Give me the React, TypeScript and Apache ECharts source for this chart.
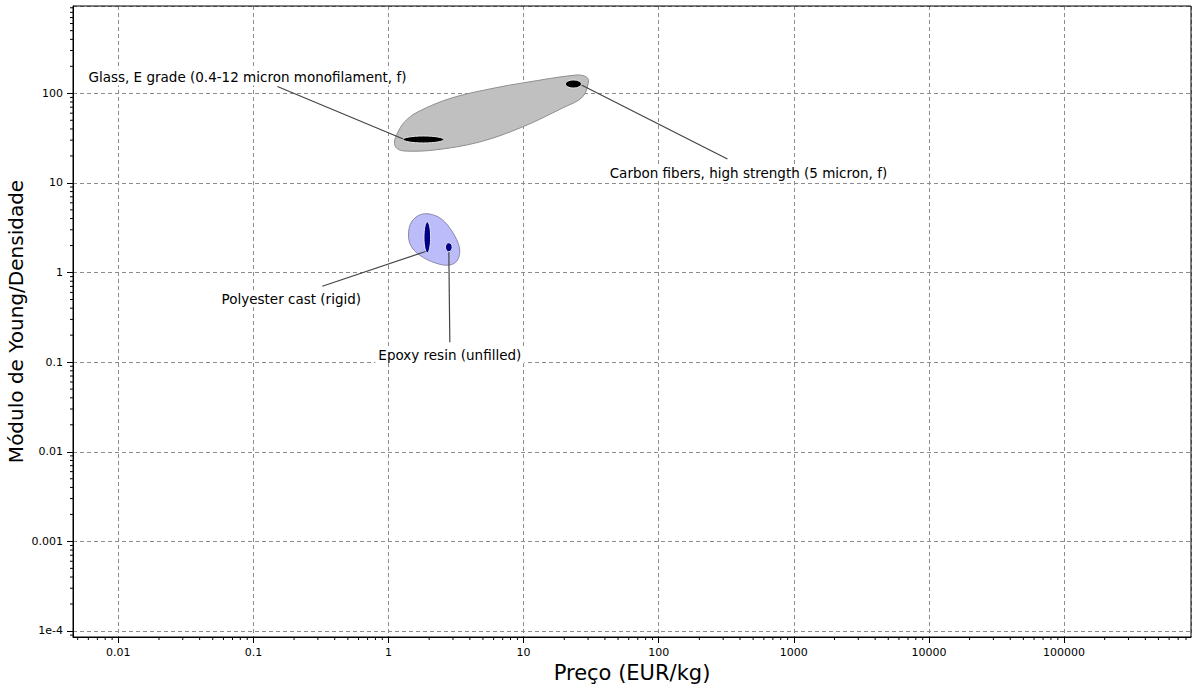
import React, { useEffect, useRef } from 'react';
import * as echarts from 'echarts';

// ---- axes ----
const xTickExps = [-2, -1, 0, 1, 2, 3, 4, 5];
const xTickLabels = ['0.01', '0.1', '1', '10', '100', '1000', '10000', '100000'];
const yTickExps = [-4, -3, -2, -1, 0, 1, 2];
const yTickLabels = ['1e-4', '0.001', '0.01', '0.1', '1', '10', '100'];
const xAxisMin = 0.00462;
const xAxisMax = 871000;
const yAxisMin = 0.0000857;
const yAxisMax = 942;
const xTitle = 'Preço (EUR/kg)';
const yTitle = 'Módulo de Young/Densidade';

// ---- materials (price EUR/kg, E/rho) ----
const materialNames = [
  'Glass, E grade (0.4-12 micron monofilament, f)',
  'Carbon fibers, high strength (5 micron, f)',
  'Polyester cast (rigid)',
  'Epoxy resin (unfilled)',
];
const priceLow = [1.28, 20.4, 1.83, 2.64];
const priceHigh = [2.57, 26.8, 2.05, 2.96];
const ratioLow = [27.9, 114.6, 1.66, 1.71];
const ratioHigh = [33.4, 140.7, 3.69, 2.15];
const materialColors = ['#000000', '#000000', '#00008b', '#00008b'];

// ---- family envelopes ----
const fibreEnvPrice = [1.107, 1.166, 1.313, 1.64, 2.926, 6.09, 9.81, 24.6, 29.2, 30.2, 27.3, 19.4, 9.81, 4.72, 2.19, 1.313, 1.146];
const fibreEnvRatio = [28.6, 36.1, 47.9, 61.8, 88.6, 114.6, 130.3, 160, 152, 133.7, 91, 68.5, 42.1, 28.6, 23.3, 22.7, 24.5];
const resinEnvPrice = [1.407, 1.48, 1.696, 2.012, 2.468, 2.977, 3.354, 3.242, 2.828, 2.228, 1.696, 1.455];
const resinEnvRatio = [2.76, 3.66, 4.38, 4.5, 3.95, 2.83, 1.876, 1.377, 1.211, 1.276, 1.567, 2.03];

// ---- layout (pixel offsets relative to the material's centre) ----
const leaderLayout = [
  { start: [-19, 0], end: [-146, -53], text: [-176, -62] },
  { start: [8, 1], end: [154, 75], text: [175, 89] },
  { start: [-1, 14], end: [-105, 49], text: [-136, 62] },
  { start: [0, 4], end: [1, 95], text: [1, 108] },
];

const FONT = 'DejaVu Sans';

function minorTicks(min: number, max: number): number[] {
  const out: number[] = [];
  for (let e = Math.floor(Math.log10(min)); e <= Math.ceil(Math.log10(max)); e++) {
    for (let m = 2; m <= 9; m++) {
      const v = m * Math.pow(10, e);
      if (v >= min && v <= max) out.push(v);
    }
  }
  return out;
}

function tickFormatter(exps: number[], labels: string[]) {
  return (v: number) => {
    const l = Math.log10(v);
    const r = Math.round(l);
    if (Math.abs(l - r) > 0.01) return '';
    const i = exps.indexOf(r);
    return i >= 0 ? labels[i] : '';
  };
}

export default function App() {
  const ref = useRef<HTMLDivElement>(null);
  useEffect(() => {
    if (!ref.current) return;
    const chart = echarts.init(ref.current, undefined, { renderer: 'svg' });

    const gm = (a: number, b: number) => Math.sqrt(a * b);
    const envelopes = [
      { p: fibreEnvPrice, r: fibreEnvRatio, fill: '#c0c0c0', stroke: '#8f8f8f' },
      { p: resinEnvPrice, r: resinEnvRatio, fill: '#bcbcfa', stroke: '#8a8aa8' },
    ];

    const xMinor = minorTicks(xAxisMin, xAxisMax);
    const yMinor = minorTicks(yAxisMin, yAxisMax);

    const axisCommon = {
      type: 'log' as const,
      logBase: 10,
      nameLocation: 'middle' as const,
      nameMoveOverlap: false,
      axisLine: { show: true, onZero: false, lineStyle: { color: '#000', width: 1 } },
      axisTick: { show: true, inside: false, length: 6, lineStyle: { color: '#000', width: 1 } },
      minorTick: { show: false },
      splitLine: { show: true, lineStyle: { color: '#8c8c8c', width: 1, type: [4, 3] } },
    };

    const option: any = {
      animation: false,
      backgroundColor: '#ffffff',
      textStyle: { fontFamily: FONT },
      grid: {
        left: 73, top: 6, right: 2, bottom: 52,
        containLabel: false,
        outerBoundsMode: 'none',
        show: true, z: 10, backgroundColor: 'transparent', borderColor: '#000', borderWidth: 1,
      },
      xAxis: {
        ...axisCommon,
        min: xAxisMin,
        max: xAxisMax,
        name: xTitle,
        nameGap: 25,
        nameTextStyle: { fontSize: 21, color: '#000', fontFamily: FONT },
        axisLabel: {
          show: true, margin: 10, color: '#000', fontSize: 11, fontFamily: FONT,
          showMinLabel: false, showMaxLabel: false,
          formatter: tickFormatter(xTickExps, xTickLabels),
        },
      },
      yAxis: {
        ...axisCommon,
        min: yAxisMin,
        max: yAxisMax,
        name: yTitle,
        nameGap: 47,
        nameTextStyle: { fontSize: 20, color: '#000', fontFamily: FONT },
        axisLabel: {
          show: true, margin: 10, color: '#000', fontSize: 11, fontFamily: FONT,
          showMinLabel: false, showMaxLabel: false,
          formatter: tickFormatter(yTickExps, yTickLabels),
        },
      },
      series: [
        {
          type: 'custom',
          name: 'xMinor',
          clip: false,
          silent: true,
          data: xMinor.map((v) => [v, 1]),
          renderItem: (params: any, api: any) => {
            const p = api.coord([api.value(0), 1]);
            const cs = params.coordSys;
            const yb = cs.y + cs.height;
            return { type: 'line', shape: { x1: p[0], y1: yb, x2: p[0], y2: yb + 3 }, style: { stroke: '#000', lineWidth: 1 } };
          },
        },
        {
          type: 'custom',
          name: 'yMinor',
          clip: false,
          silent: true,
          data: yMinor.map((v) => [1, v]),
          renderItem: (params: any, api: any) => {
            const p = api.coord([1, api.value(1)]);
            const cs = params.coordSys;
            const xl = cs.x;
            return { type: 'line', shape: { x1: xl - 3, y1: p[1], x2: xl, y2: p[1] }, style: { stroke: '#000', lineWidth: 1 } };
          },
        },
        {
          type: 'custom',
          name: 'envelopes',
          clip: false,
          silent: true,
          data: envelopes.map((e, i) => [e.p[0], e.r[0], i]),
          renderItem: (params: any, api: any) => {
            const e = envelopes[api.value(2)];
            const pts = e.p.map((p, k) => api.coord([p, e.r[k]]));
            return {
              type: 'polygon',
              shape: { points: pts, smooth: 0.35 },
              style: { fill: e.fill, stroke: e.stroke, lineWidth: 1 },
            };
          },
        },
        {
          type: 'custom',
          name: 'labels',
          clip: false,
          silent: true,
          data: materialNames.map((n, i) => [gm(priceLow[i], priceHigh[i]), gm(ratioLow[i], ratioHigh[i]), i]),
          renderItem: (params: any, api: any) => {
            const i = api.value(2);
            const c = api.coord([api.value(0), api.value(1)]);
            const L = leaderLayout[i];
            return {
              type: 'group',
              children: [
                {
                  type: 'line',
                  shape: { x1: c[0] + L.start[0], y1: c[1] + L.start[1], x2: c[0] + L.end[0], y2: c[1] + L.end[1] },
                  style: { stroke: '#444', lineWidth: 1.2 },
                },
                {
                  type: 'text',
                  x: c[0] + L.text[0],
                  y: c[1] + L.text[1],
                  style: {
                    text: materialNames[i],
                    fill: '#000',
                    font: `13.5px "${FONT}"`,
                    align: 'center',
                    verticalAlign: 'middle',
                    backgroundColor: '#ffffff',
                    padding: [1, 3],
                  },
                },
              ],
            };
          },
        },
        {
          type: 'custom',
          name: 'materials',
          clip: false,
          silent: true,
          data: materialNames.map((n, i) => [gm(priceLow[i], priceHigh[i]), gm(ratioLow[i], ratioHigh[i]), i]),
          renderItem: (params: any, api: any) => {
            const i = api.value(2);
            const pc = api.value(0);
            const rc = api.value(1);
            const c = api.coord([pc, rc]);
            const x1 = api.coord([priceLow[i], rc])[0];
            const x2 = api.coord([priceHigh[i], rc])[0];
            const y1 = api.coord([pc, ratioHigh[i]])[1];
            const y2 = api.coord([pc, ratioLow[i]])[1];
            return {
              type: 'ellipse',
              shape: { cx: c[0], cy: c[1], rx: Math.abs(x2 - x1) / 2, ry: Math.abs(y2 - y1) / 2 },
              style: { fill: materialColors[i], stroke: '#e6e6e6', lineWidth: 1 },
            };
          },
        },
      ],
    };

    chart.setOption(option);
    return () => chart.dispose();
  }, []);

  return (
    <div
      ref={ref}
      style={{ position: 'absolute', left: 0, top: 0, width: 1193, height: 689, background: '#fff' }}
    />
  );
}
